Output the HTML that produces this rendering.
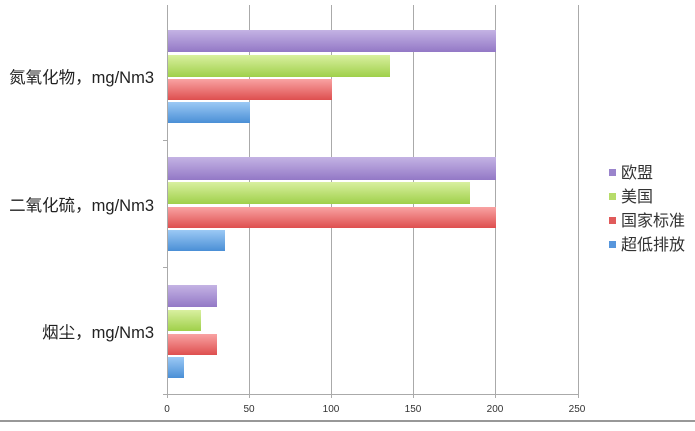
<!DOCTYPE html>
<html><head><meta charset="utf-8"><style>
body{margin:0;width:695px;height:426px;background:#fff;overflow:hidden;font-family:"Liberation Sans","Noto Sans CJK SC",sans-serif}
</style></head><body>
<svg width="695" height="426" xmlns="http://www.w3.org/2000/svg">
<defs>
<linearGradient id="p" x1="0" y1="0" x2="0" y2="1"><stop offset="0" stop-color="#c4b3e4"/><stop offset="1" stop-color="#9378c6"/></linearGradient>
<linearGradient id="g" x1="0" y1="0" x2="0" y2="1"><stop offset="0" stop-color="#d9f0a0"/><stop offset="1" stop-color="#9fd04a"/></linearGradient>
<linearGradient id="r" x1="0" y1="0" x2="0" y2="1"><stop offset="0" stop-color="#f9a3a3"/><stop offset="1" stop-color="#de4f4f"/></linearGradient>
<linearGradient id="b" x1="0" y1="0" x2="0" y2="1"><stop offset="0" stop-color="#9cc9f5"/><stop offset="1" stop-color="#4a8fd6"/></linearGradient>
</defs>
<g stroke="#aaa" stroke-width="1">
<line x1="249.5" y1="5" x2="249.5" y2="398"/>
<line x1="331.5" y1="5" x2="331.5" y2="398"/>
<line x1="413.5" y1="5" x2="413.5" y2="398"/>
<line x1="495.5" y1="5" x2="495.5" y2="398"/>
<line x1="578.5" y1="5" x2="578.5" y2="398"/>
<line x1="167.5" y1="5" x2="167.5" y2="398"/>
<line x1="163" y1="394.5" x2="579" y2="394.5"/>
<line x1="163" y1="140.5" x2="167" y2="140.5"/>
<line x1="163" y1="267.5" x2="167" y2="267.5"/>
</g>
<line x1="0" y1="421" x2="695" y2="421" stroke="#777" stroke-width="1.5"/>
<g>
<rect x="168" y="30" width="328" height="22" fill="url(#p)"/>
<rect x="168" y="55" width="222" height="22" fill="url(#g)"/>
<rect x="168" y="79" width="164" height="21" fill="url(#r)"/>
<rect x="168" y="102" width="82" height="21" fill="url(#b)"/>
<rect x="168" y="157" width="328" height="23" fill="url(#p)"/>
<rect x="168" y="182" width="302" height="22" fill="url(#g)"/>
<rect x="168" y="207" width="328" height="21" fill="url(#r)"/>
<rect x="168" y="230" width="57" height="21" fill="url(#b)"/>
<rect x="168" y="285" width="49" height="22" fill="url(#p)"/>
<rect x="168" y="310" width="33" height="21" fill="url(#g)"/>
<rect x="168" y="334" width="49" height="21" fill="url(#r)"/>
<rect x="168" y="357" width="16" height="21" fill="url(#b)"/>
</g>
<g font-size="10" fill="#333" text-anchor="middle">
<text x="167" y="412">0</text><text x="249" y="412">50</text><text x="331" y="412">100</text>
<text x="413" y="412">150</text><text x="495" y="412">200</text><text x="577" y="412">250</text>
</g>
<g font-size="16.5" fill="#222" text-anchor="end">
<text x="154" y="83">氮氧化物，mg/Nm3</text>
<text x="154" y="211">二氧化硫，mg/Nm3</text>
<text x="154" y="338">烟尘，mg/Nm3</text>
</g>
<g font-size="16" fill="#333">
<rect x="609" y="169" width="7" height="7" fill="#9a84cc"/><text x="621" y="178">欧盟</text>
<rect x="609" y="193" width="7" height="7" fill="#b7dc6a"/><text x="621" y="202">美国</text>
<rect x="609" y="217" width="7" height="7" fill="#e05a5a"/><text x="621" y="226">国家标准</text>
<rect x="609" y="241" width="7" height="7" fill="#5796dc"/><text x="621" y="250">超低排放</text>
</g>
</svg>
</body></html>
